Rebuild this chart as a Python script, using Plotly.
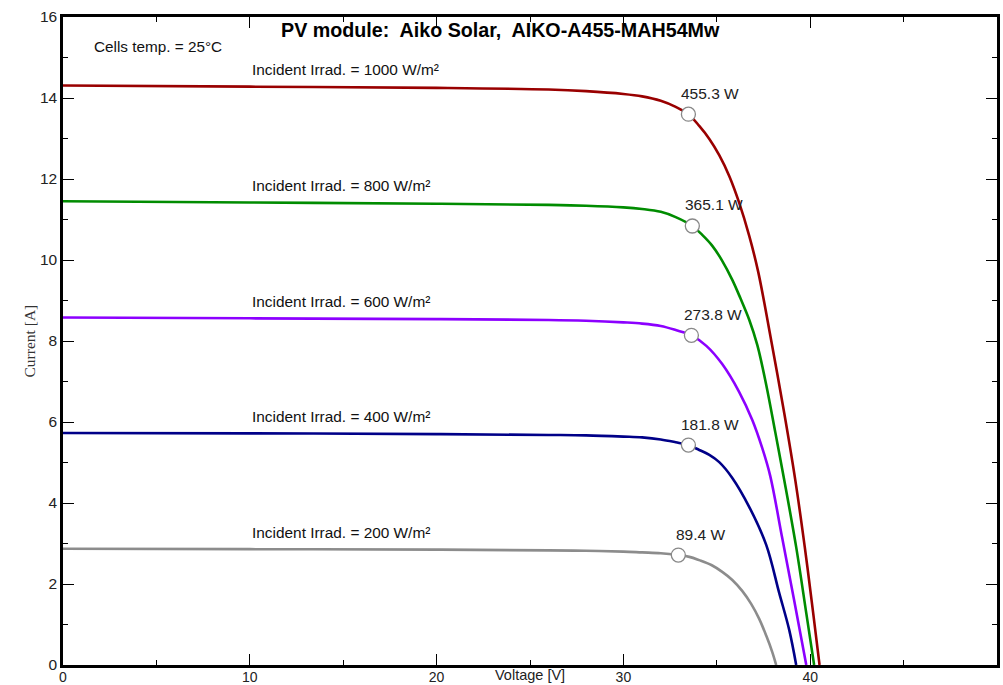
import plotly.graph_objects as go

# ---- data ----
irrad_labels = ["1000", "800", "600", "400", "200"]
colors = ["#990000", "#008c00", "#8c00ff", "#000088", "#8c8c8c"]

v1000 = [0, 10, 20, 26, 28, 30, 31, 32, 32.8, 33.48, 34.06, 34.60, 35.13, 35.67, 36.20, 36.74, 37.22, 37.91, 38.61, 39.20, 39.71, 40.16, 40.50]
i1000 = [14.31, 14.28, 14.25, 14.21, 14.17, 14.10, 14.04, 13.93, 13.78, 13.60, 13.31, 12.99, 12.59, 12.07, 11.41, 10.59, 9.70, 8.02, 6.22, 4.57, 2.91, 1.28, 0]

v800 = [0, 10, 20, 26, 28, 30, 31, 32, 32.8, 33.69, 34.22, 34.76, 35.29, 35.83, 36.26, 36.74, 37.17, 37.65, 38.13, 38.61, 39.25, 39.79, 40.21]
i800 = [11.45, 11.42, 11.39, 11.36, 11.34, 11.30, 11.26, 11.19, 11.06, 10.84, 10.62, 10.35, 9.98, 9.51, 9.06, 8.52, 7.90, 6.91, 5.75, 4.57, 2.91, 1.28, 0]

v600 = [0, 10, 20, 26, 28, 30, 31, 32, 32.8, 33.64, 34.44, 35.29, 36.20, 36.90, 37.43, 37.86, 38.50, 39.14, 39.79]
i600 = [8.58, 8.56, 8.54, 8.52, 8.50, 8.46, 8.43, 8.37, 8.27, 8.14, 7.88, 7.43, 6.74, 6.05, 5.36, 4.67, 3.14, 1.60, 0]

v400 = [0, 10, 20, 26, 28, 30, 31, 32, 32.8, 33.48, 34.06, 34.60, 35.13, 35.83, 36.74, 37.65, 38.34, 38.88, 39.25]
i400 = [5.73, 5.72, 5.70, 5.68, 5.67, 5.64, 5.62, 5.57, 5.50, 5.43, 5.31, 5.19, 5.01, 4.62, 3.90, 2.96, 1.78, 0.86, 0]

v200 = [0, 10, 20, 26, 28, 30, 31, 32, 32.94, 33.53, 34.06, 34.71, 35.29, 35.83, 36.36, 36.84, 37.27, 37.65, 37.97, 38.18]
i200 = [2.87, 2.86, 2.85, 2.83, 2.82, 2.80, 2.78, 2.76, 2.714, 2.67, 2.59, 2.47, 2.30, 2.10, 1.83, 1.51, 1.14, 0.72, 0.32, 0]

mpp_v = [33.48, 33.69, 33.64, 33.48, 32.94]
mpp_i = [13.60, 10.84, 8.14, 5.43, 2.714]
mpp_p = ["455.3 W", "365.1 W", "273.8 W", "181.8 W", "89.4 W"]

curves_v = [v1000, v800, v600, v400, v200]
curves_i = [i1000, i800, i600, i400, i200]

FONT = "Liberation Sans, Arial, sans-serif"

fig = go.Figure()
for vv, ii, col in zip(curves_v, curves_i, colors):
    fig.add_trace(go.Scatter(x=vv, y=ii, mode="lines",
                             line=dict(color=col, width=2.6, shape="spline", smoothing=1.0),
                             showlegend=False, hoverinfo="skip"))

fig.add_trace(go.Scatter(x=mpp_v, y=mpp_i, mode="markers",
                         marker=dict(size=14, color="white", line=dict(color="#888888", width=1.3)),
                         showlegend=False, hoverinfo="skip"))

ann = []
for k in range(5):
    ann.append(dict(x=mpp_v[k], y=mpp_i[k], xref="x", yref="y", text=mpp_p[k],
                    showarrow=False, xshift=22, yshift=21,
                    font=dict(family=FONT, size=15.5, color="#222222")))
    ann.append(dict(x=10, y=curves_i[k][1], xref="x", yref="y",
                    text="Incident Irrad. = " + irrad_labels[k] + " W/m²",
                    xanchor="left", showarrow=False, yshift=17,
                    font=dict(family=FONT, size=15.4, color="#111111")))

ann.append(dict(x=0.5, y=1, xref="paper", yref="paper", yanchor="middle", yshift=-13, xshift=-30,
                text="<b>PV module:\u00a0 Aiko Solar,\u00a0 AIKO-A455-MAH54Mw</b>",
                showarrow=False, font=dict(family=FONT, size=19.7, color="black")))
ann.append(dict(x=1.55, y=15.26, xref="x", yref="y", xanchor="left",
                text="Cells temp. = 25°C", showarrow=False,
                font=dict(family=FONT, size=15.3, color="#111111")))
ann.append(dict(x=25, y=0, xref="x", yref="paper", yanchor="middle", yshift=-10,
                text="Voltage [V]", showarrow=False,
                font=dict(family=FONT, size=14.5, color="#222222")))
ann.append(dict(x=0, y=8, xref="paper", yref="y", xshift=-45, textangle=-90,
                text="Current [A]", showarrow=False,
                font=dict(family="Liberation Serif, Times New Roman, serif", size=15.5, color="#333333")))

axis_common = dict(showline=True, linecolor="black", linewidth=2.5, mirror="ticks",
                   ticks="inside", ticklen=11, tickwidth=1.2, tickcolor="black",
                   showgrid=False, zeroline=False, automargin=False)

fig.update_layout(
    width=1003, height=685,
    margin=dict(l=63, r=6, t=17, b=20),
    plot_bgcolor="white", paper_bgcolor="white",
    xaxis=dict(range=[0, 50], dtick=10, tick0=0, ticklabelstandoff=-3,
               tickfont=dict(family=FONT, size=14, color="#222222"),
               minor=dict(ticks="inside", ticklen=5, dtick=5, tickwidth=1.2, tickcolor="black"),
               **axis_common),
    yaxis=dict(range=[0, 16], dtick=2, tick0=0,
               tickfont=dict(family=FONT, size=15.5, color="#222222"),
               minor=dict(ticks="inside", ticklen=5, dtick=1, tickwidth=1.2, tickcolor="black"),
               **axis_common),
    annotations=ann,
)

fig.write_html("out.html")
